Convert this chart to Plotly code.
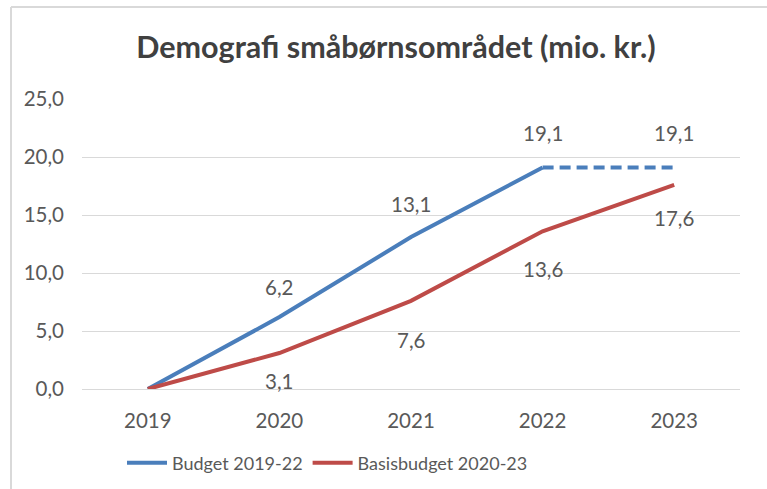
import plotly.graph_objects as go

years = ["2019", "2020", "2021", "2022", "2023"]
budget = [0.0, 6.2, 13.1, 19.1, 19.1]
basis = [0.0, 3.1, 7.6, 13.6, 17.6]
budget_label_shift = [None, 30, 33, 34, 34]
basis_label_shift = [None, -28, -39, -38, -33]

W, H = 767, 489
L, R, T, B = 82, 27, 99, 100
pw, ph = W - L - R, H - T - B

BLUE = "#4A7EBB"
RED = "#BE4B48"
FONT = "Lato"
TXT = "#595959"

fig = go.Figure()
fig.add_trace(go.Scatter(x=years[:4], y=budget[:4], mode="lines", name="Budget 2019-22",
                         line=dict(color=BLUE, width=4)))
fig.add_trace(go.Scatter(x=years[3:], y=budget[3:], mode="lines", showlegend=False,
                         line=dict(color=BLUE, width=4, dash="11px,6px")))
fig.add_trace(go.Scatter(x=years, y=basis, mode="lines", name="Basisbudget 2020-23",
                         line=dict(color=RED, width=4)))

def fmt(v):
    return f"{v:.1f}".replace(".", ",")

anns = []
for i, (v, s) in enumerate(zip(budget, budget_label_shift)):
    if s is None:
        continue
    anns.append(dict(x=i, y=v, xref="x", yref="y", text=fmt(v), showarrow=False, yshift=s,
                     font=dict(family=FONT, size=20.5, color=TXT)))
for i, (v, s) in enumerate(zip(basis, basis_label_shift)):
    if s is None:
        continue
    anns.append(dict(x=i, y=v, xref="x", yref="y", text=fmt(v), showarrow=False, yshift=s,
                     font=dict(family=FONT, size=20.5, color=TXT)))

def px_x(p):
    return (p - L) / pw

def px_y(p):
    return (H - B - p) / ph

shapes = [
    dict(type="line", xref="paper", yref="paper", x0=px_x(11), x1=px_x(W + 5), y0=px_y(7), y1=px_y(7),
         line=dict(color="#D9D9D9", width=2)),
    dict(type="line", xref="paper", yref="paper", x0=px_x(11), x1=px_x(11), y0=px_y(7), y1=px_y(H + 5),
         line=dict(color="#D9D9D9", width=2)),
]

yticks = [0, 5, 10, 15, 20, 25]
fig.update_layout(
    width=W, height=H,
    margin=dict(l=L, r=R, t=T, b=B, autoexpand=False),
    paper_bgcolor="white", plot_bgcolor="white",
    title=dict(text="<b>Demografi småbørnsområdet (mio. kr.)</b>", x=396 / W, xref="container",
               xanchor="center", y=1 - 47 / H, yanchor="middle",
               font=dict(family=FONT, size=30.5, color="#404040")),
    xaxis=dict(type="category", range=[-0.5, 4.5], showgrid=False, zeroline=False,
               showline=False, ticks="", tickfont=dict(family=FONT, size=20.5, color=TXT),
               ticklabelstandoff=17),
    yaxis=dict(range=[0, 25], tickvals=yticks, ticktext=[fmt(v) for v in yticks],
               showgrid=True, gridcolor="#D9D9D9", gridwidth=1, zeroline=True,
               zerolinecolor="#D9D9D9", zerolinewidth=1, showline=False, ticks="",
               tickfont=dict(family=FONT, size=20.5, color=TXT), ticklabelstandoff=17),
    legend=dict(orientation="h", x=px_x(122), xanchor="left", y=px_y(463), yanchor="middle",
                font=dict(family=FONT, size=18, color=TXT), itemwidth=40, tracegroupgap=0),
    annotations=anns,
    shapes=shapes,
)
fig.write_html("out.html", config={"displayModeBar": False},
               post_script="document.body.style.margin='0';")
